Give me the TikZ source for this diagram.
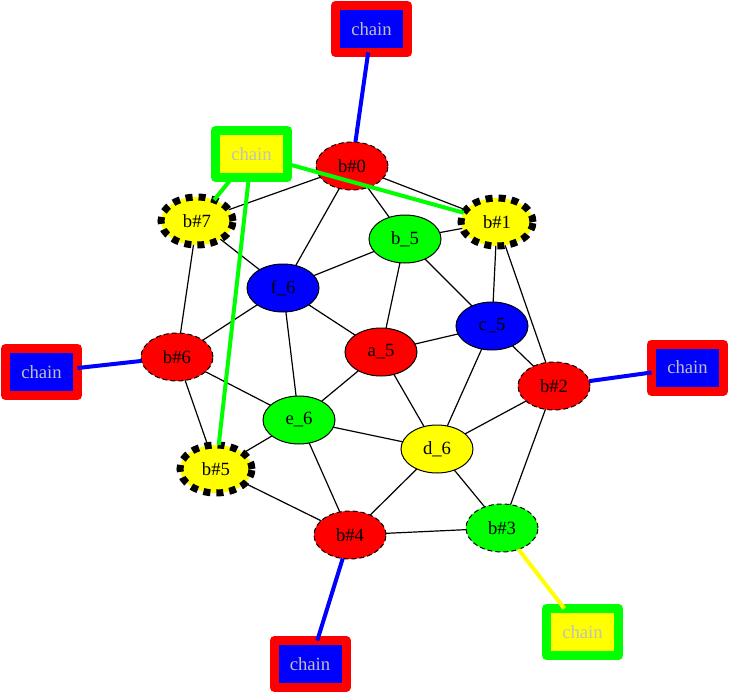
\documentclass[tikz,border=0pt]{standalone}
\usepackage{fontspec}
\setmainfont{Liberation Serif}
\usetikzlibrary{shapes.geometric}
\definecolor{gvred}{RGB}{255,0,0}
\definecolor{gvgreen}{RGB}{0,255,0}
\definecolor{gvblue}{RGB}{0,0,255}
\definecolor{gvyellow}{RGB}{255,255,0}
\definecolor{chaingray}{RGB}{192,192,192}
\begin{document}
\begin{tikzpicture}[x=1pt,y=-1pt,
  every node/.style={font=\fontsize{18.67}{22}\selectfont, inner sep=0pt, outer sep=0pt},
  ell/.style={ellipse, minimum width=72pt, minimum height=48pt, draw=black, line width=1pt},
  thindash/.style={ell, dash pattern=on 5pt off 3pt},
  thickdash/.style={ell, line width=7pt, dash pattern=on 7pt off 6pt, fill=gvyellow},
  chainbox/.style={rectangle, minimum width=72pt, minimum height=47pt, line width=9pt, line join=round, text=chaingray},
  redchain/.style={chainbox, draw=gvred, fill=gvblue},
  greenchain/.style={chainbox, draw=gvgreen, fill=gvyellow},
  gedge/.style={line width=1.2pt},
  cedge/.style={line width=4pt}
]
\useasboundingbox (0,0) rectangle (729,693);
% chain boxes
\node[redchain] (ch0) at (371.5,29) {chain};
\node[greenchain] (chg) at (251.5,154) {chain};
\node[redchain] (chl) at (41.5,372) {chain};
\node[redchain] (chr) at (687.5,367.5) {chain};
\node[redchain] (chb) at (310,664) {chain};
\node[greenchain] (chbr) at (582.5,632) {chain};
% b# nodes
\node[thindash, fill=gvred] (b0) at (352,166) {b\#0};
\node[thickdash] (b1) at (497,222) {b\#1};
\node[thindash, fill=gvred] (b2) at (554,386) {b\#2};
\node[thindash, fill=gvgreen] (b3) at (502,528) {b\#3};
\node[thindash, fill=gvred] (b4) at (350,535) {b\#4};
\node[thickdash] (b5) at (216,469) {b\#5};
\node[thindash, fill=gvred] (b6) at (177,357) {b\#6};
\node[thickdash] (b7) at (197,221) {b\#7};
% inner nodes
\node[ell, fill=gvgreen] (nb5) at (405,239) {b\_5};
\node[ell, fill=gvblue] (f6) at (283,288) {f\_6};
\node[ell, fill=gvblue] (c5) at (492,326) {c\_5};
\node[ell, fill=gvred] (a5) at (381,352) {a\_5};
\node[ell, fill=gvgreen] (e6) at (299,420) {e\_6};
\node[ell, fill=gvyellow] (d6) at (437,449) {d\_6};
% black edges
\foreach \u/\v in {b0/b7, b0/b1, b0/f6, b0/nb5, b7/f6, b7/b6, b1/nb5, b1/c5, b1/b2,
  nb5/f6, nb5/a5, nb5/c5, f6/a5, f6/e6, f6/b6, c5/a5, c5/b2, c5/d6, a5/e6, a5/d6,
  b6/e6, b6/b5, b2/d6, b2/b3, e6/b5, e6/d6, e6/b4, d6/b4, d6/b3, b5/b4, b4/b3}
  \draw[gedge] (\u) -- (\v);
% coloured edges
\draw[cedge, gvblue] (ch0) -- (b0);
\draw[cedge, gvgreen] (chg) -- (b7);
\draw[cedge, gvgreen] (chg) -- (b1);
\draw[cedge, gvgreen] (chg) -- (b5);
\draw[cedge, gvblue] (chl) -- (b6);
\draw[cedge, gvblue] (chr) -- (b2);
\draw[cedge, gvblue] (chb) -- (b4);
\draw[cedge, gvyellow] (chbr) -- (b3);
\end{tikzpicture}
\end{document}
